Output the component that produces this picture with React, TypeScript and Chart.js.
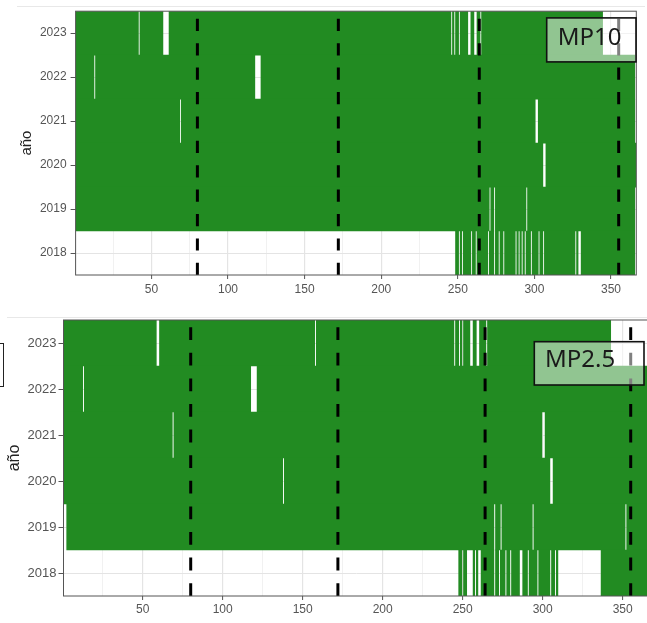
import React, { useEffect, useRef } from 'react';
import { Chart, registerables } from 'chart.js';

Chart.register(...registerables);

type Range = [number, number];

// ---------- shared axes data ----------
const years = ['2023', '2022', '2021', '2020', '2019', '2018'];
const xTickLabels = [50, 100, 150, 200, 250, 300, 350];
const xMinorGrid = [25, 75, 125, 175, 225, 275, 325];
const seasonDays = [80, 172, 264, 355];
const dayMin = 0.5;
const dayMax = 366.5;

// ---------- MP10 (days with data: first/last day per year, missing ranges) ----------
const mp10FirstDay = [1, 1, 1, 1, 1, 249];
const mp10LastDay = [344, 365, 365, 366, 365, 365];
const mp10Missing2023: Range[] = [[42, 42], [58, 61], [246, 246], [248, 248], [251, 251], [257, 258], [261, 262], [265, 265]];
const mp10Missing2022: Range[] = [[13, 13], [118, 121]];
const mp10Missing2021: Range[] = [[69, 69], [301, 302]];
const mp10Missing2020: Range[] = [[306, 307]];
const mp10Missing2019: Range[] = [[271, 271], [274, 274], [295, 295]];
const mp10Missing2018: Range[] = [[251, 251], [253, 253], [259, 259], [262, 262], [270, 270], [274, 274], [277, 277], [280, 280], [288, 288], [290, 290], [292, 292], [294, 294], [298, 298], [303, 303], [306, 306], [327, 327], [329, 330]];

// ---------- MP2.5 ----------
const mp25FirstDay = [1, 1, 1, 1, 3, 248];
const mp25LastDay = [342, 365, 365, 366, 365, 365];
const mp25Missing2023: Range[] = [[59, 60], [158, 158], [245, 245], [248, 248], [250, 250], [255, 256], [259, 260], [265, 265]];
const mp25Missing2022: Range[] = [[13, 13], [118, 121]];
const mp25Missing2021: Range[] = [[69, 69], [300, 301]];
const mp25Missing2020: Range[] = [[138, 138], [305, 306]];
const mp25Missing2019: Range[] = [[270, 270], [274, 274], [294, 294], [352, 352]];
const mp25Missing2018: Range[] = [[250, 250], [253, 256], [258, 258], [260, 261], [270, 270], [273, 273], [277, 277], [280, 280], [286, 287], [291, 291], [297, 297], [305, 305], [308, 308], [310, 336]];

const mp10Missing = [mp10Missing2023, mp10Missing2022, mp10Missing2021, mp10Missing2020, mp10Missing2019, mp10Missing2018];
const mp25Missing = [mp25Missing2023, mp25Missing2022, mp25Missing2021, mp25Missing2020, mp25Missing2019, mp25Missing2018];

function buildSegments(first: number, last: number, missing: Range[]): Range[] {
  const segs: Range[] = [];
  let start = first;
  const sorted = [...missing].sort((a, b) => a[0] - b[0]);
  for (const [a, b] of sorted) {
    if (a > start) segs.push([start - 0.5, a - 0.5]);
    start = Math.max(start, b + 1);
  }
  if (start <= last) segs.push([start - 0.5, last + 0.5]);
  return segs;
}

function buildPoints(first: number[], last: number[], missing: Range[][]) {
  const pts: { y: string; x: Range }[] = [];
  years.forEach((yr, i) => {
    buildSegments(first[i], last[i], missing[i]).forEach((s) => pts.push({ y: yr, x: s }));
  });
  return pts;
}

interface PanelSpec {
  top: number;
  width: number;
  height: number;
  padTop: number;
  padRight: number;
  yWidth: number;
  xHeight: number;
  yFont: number;
  yTickLen: number;
  yTickPad: number;
  xTickPad: number;
  titleFont: number;
  titlePad: number;
  dash: number;
  label: string;
  boxRightGap: number;
  boxTop: number;
  boxW: number;
  boxH: number;
  textPad: number;
  textDy: number;
  points: { y: string; x: Range }[];
}

const decorPlugin = {
  id: 'panelDecor',
  afterDatasetsDraw(chart: any, _args: any, opts: any) {
    const { ctx, chartArea: a, scales } = chart;
    const xs = scales.x;
    ctx.save();
    ctx.beginPath();
    ctx.rect(a.left, a.top, a.right - a.left, a.bottom - a.top);
    ctx.clip();
    ctx.strokeStyle = '#000';
    ctx.lineWidth = 3;
    ctx.setLineDash([opts.dash, opts.dash]);
    for (const d of seasonDays) {
      const x = xs.getPixelForValue(d);
      ctx.beginPath();
      ctx.moveTo(x, a.bottom);
      ctx.lineTo(x, a.top);
      ctx.stroke();
    }
    ctx.restore();

    ctx.save();
    ctx.strokeStyle = '#555';
    ctx.lineWidth = 1;
    ctx.strokeRect(a.left, a.top, a.right - a.left, a.bottom - a.top);
    ctx.restore();

    // label box
    const bx = a.right - opts.boxRightGap - opts.boxW;
    const by = a.top + opts.boxTop;
    ctx.save();
    ctx.fillStyle = 'rgba(255,255,255,0.5)';
    ctx.fillRect(bx, by, opts.boxW, opts.boxH);
    ctx.strokeStyle = '#111';
    ctx.lineWidth = 1.6;
    ctx.strokeRect(bx, by, opts.boxW, opts.boxH);
    ctx.fillStyle = '#1a1a1a';
    ctx.font = '24px "Noto Sans", "Open Sans", sans-serif';
    ctx.textAlign = 'left';
    ctx.textBaseline = 'middle';
    ctx.fillText(opts.label, bx + opts.textPad, by + opts.textDy);
    ctx.restore();
  },
};

function Panel({ spec }: { spec: PanelSpec }) {
  const ref = useRef<HTMLCanvasElement>(null);
  useEffect(() => {
    const isMajor = (v: number) => xTickLabels.includes(v);
    const chart = new Chart(ref.current as HTMLCanvasElement, {
      type: 'bar',
      data: {
        labels: years,
        datasets: [
          {
            data: spec.points as any,
            backgroundColor: '#228B22',
            borderWidth: 0,
            barPercentage: 1,
            categoryPercentage: 1,
            grouped: false,
          } as any,
        ],
      },
      options: {
        indexAxis: 'y',
        animation: false,
        responsive: false,
        devicePixelRatio: 1,
        layout: { padding: { left: 0, right: spec.padRight, top: spec.padTop, bottom: 0 } },
        plugins: {
          legend: { display: false },
          tooltip: { enabled: false },
          panelDecor: {
            dash: spec.dash,
            label: spec.label,
            boxRightGap: spec.boxRightGap,
            boxTop: spec.boxTop,
            boxW: spec.boxW,
            boxH: spec.boxH,
            textPad: spec.textPad,
            textDy: spec.textDy,
          },
        } as any,
        scales: {
          x: {
            type: 'linear',
            min: dayMin,
            max: dayMax,
            afterBuildTicks: (s: any) => {
              s.ticks = [...xMinorGrid, ...xTickLabels].sort((a, b) => a - b).map((v) => ({ value: v }));
            },
            afterFit: (s: any) => {
              s.height = spec.xHeight;
            },
            border: { display: false },
            grid: {
              color: (c: any) => (c.tick && isMajor(c.tick.value) ? '#e4e4e4' : '#eeeeee'),
              lineWidth: (c: any) => (c.tick && isMajor(c.tick.value) ? 1.2 : 0.8),
              tickColor: (c: any) => (c.tick && isMajor(c.tick.value) ? '#555' : 'rgba(0,0,0,0)'),
              tickLength: 4,
              tickWidth: 1,
            },
            ticks: {
              autoSkip: false,
              maxRotation: 0,
              padding: spec.xTickPad,
              color: '#555',
              font: { family: '"Liberation Sans", Arial, sans-serif', size: 12 },
              callback: (v: any) => (isMajor(Number(v)) ? String(v) : ''),
            },
          },
          y: {
            type: 'category',
            offset: true,
            afterFit: (s: any) => {
              s.width = spec.yWidth;
            },
            border: { display: false },
            grid: {
              offset: false,
              color: '#e4e4e4',
              lineWidth: 1,
              tickColor: '#555',
              tickLength: spec.yTickLen,
            },
            ticks: {
              padding: spec.yTickPad,
              color: '#555',
              font: { family: '"Liberation Sans", Arial, sans-serif', size: spec.yFont },
            },
            title: {
              display: true,
              text: 'año',
              color: '#222',
              font: { family: '"Liberation Sans", Arial, sans-serif', size: spec.titleFont },
              padding: { top: spec.titlePad, bottom: 0 },
            },
          },
        },
      } as any,
      plugins: [decorPlugin as any],
    });
    return () => chart.destroy();
  }, [spec]);
  return (
    <canvas
      ref={ref}
      width={spec.width}
      height={spec.height}
      style={{ position: 'absolute', left: 0, top: spec.top, width: spec.width, height: spec.height }}
    />
  );
}

const topSpec: PanelSpec = {
  top: 0,
  width: 647,
  height: 300,
  padTop: 11,
  padRight: 10.7,
  yWidth: 75.6,
  xHeight: 25,
  yFont: 12,
  yTickLen: 5,
  yTickPad: 4,
  xTickPad: 3,
  titleFont: 15,
  titlePad: 17.7,
  dash: 12.2,
  label: 'MP10',
  boxRightGap: 0.3,
  boxTop: 6.7,
  boxW: 89.3,
  boxH: 44,
  textPad: 11,
  textDy: 20.3,
  points: buildPoints(mp10FirstDay, mp10LastDay, mp10Missing),
};

const bottomSpec: PanelSpec = {
  top: 305,
  width: 660,
  height: 318,
  padTop: 15,
  padRight: 10.9,
  yWidth: 63.5,
  xHeight: 27,
  yFont: 13,
  yTickLen: 5,
  yTickPad: 2,
  xTickPad: 2,
  titleFont: 16,
  titlePad: 5.1,
  dash: 12.8,
  label: 'MP2.5',
  boxRightGap: 5.1,
  boxTop: 21.7,
  boxW: 109.7,
  boxH: 43.3,
  textPad: 10.7,
  textDy: 18.3,
  points: buildPoints(mp25FirstDay, mp25LastDay, mp25Missing),
};

export default function App() {
  return (
    <div
      style={{
        position: 'fixed',
        left: 0,
        top: 0,
        width: 647,
        height: 623,
        overflow: 'hidden',
        background: '#fff',
      }}
    >
      <div style={{ position: 'absolute', left: 17, top: 6, width: 628, height: 1, background: '#e8e8e8' }} />
      <div style={{ position: 'absolute', left: 7, top: 317, width: 640, height: 1, background: '#e8e8e8' }} />
      <Panel spec={topSpec} />
      <Panel spec={bottomSpec} />
      <div
        style={{
          position: 'absolute',
          left: -10,
          top: 343,
          width: 12,
          height: 42,
          border: '1.5px solid #222',
        }}
      />
    </div>
  );
}
